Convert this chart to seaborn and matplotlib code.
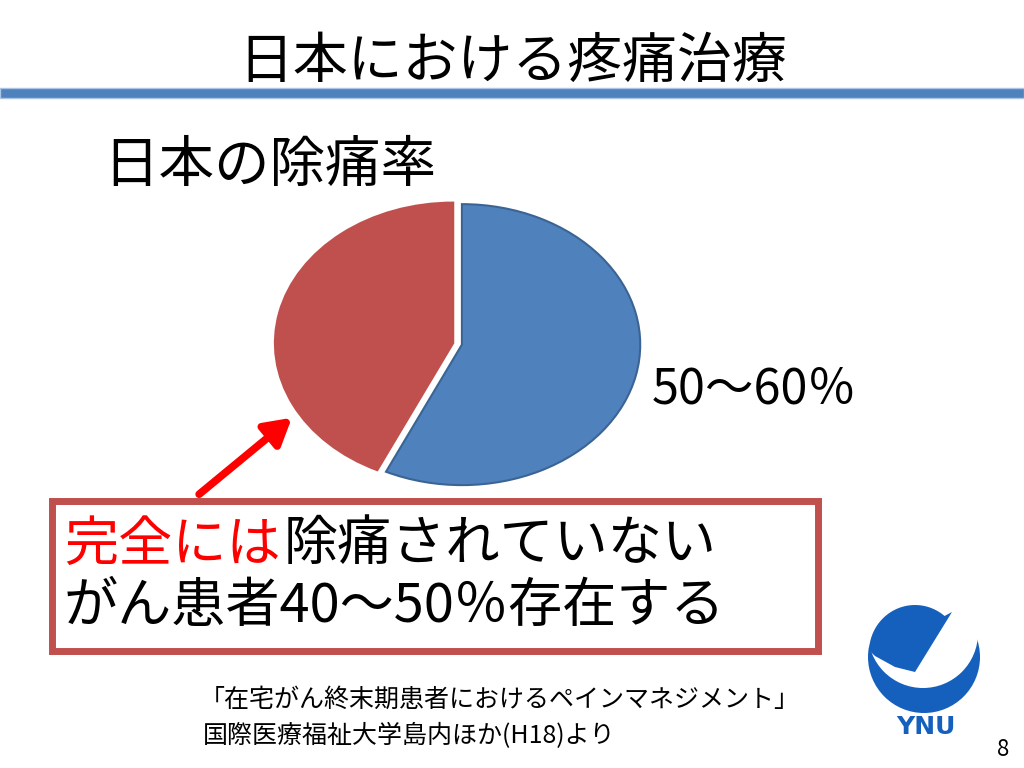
import matplotlib
matplotlib.use("Agg")
import numpy as np
import matplotlib.pyplot as plt
import seaborn as sns
from matplotlib.patches import Rectangle, Circle, Polygon

# pie data: relief rate of cancer pain in Japan
slice_labels = ['除痛されている', '完全には除痛されていない']
slice_values = [57, 43]
slice_colors = ['#4F81BD', '#C0504D']
slice_edges = ['#3B6494', '#C0504D']

title_text = '日本における疼痛治療'
subtitle_text = '日本の除痛率'
blue_label = '50〜60％'
box_red = '完全には'
box_black = '除痛されていない'
box_line2 = 'がん患者40〜50％存在する'
cite_line1 = '「在宅がん終末期患者におけるペインマネジメント」'
cite_line2 = '国際医療福祉大学島内ほか(H18)より'
page_no = '8'

sns.set_theme(style="white")
plt.rcParams['font.family'] = ['Noto Sans CJK JP', 'DejaVu Sans']

W, H = 1024, 768
fig = plt.figure(figsize=(W / 100, H / 100), dpi=100)
fig.patch.set_facecolor('white')

# overlay axes in pixel coordinates
ov = fig.add_axes([0, 0, 1, 1])
ov.set_xlim(0, W)
ov.set_ylim(H, 0)
ov.axis('off')

# title + blue rule
ov.text(513, 62, title_text, fontsize=39.5, ha='center', va='center', color='black')
ov.add_patch(Rectangle((0, 88), W, 10, facecolor='#4F81BD', edgecolor='#A9C4E4', lw=1))

ov.text(103, 166, subtitle_text, fontsize=40, ha='left', va='center', color='black')

# pie chart, stretched into an ellipse
px0, py0, pw, ph = 266, 197, 378, 295
pax = fig.add_axes([px0 / W, 1 - (py0 + ph) / H, pw / W, ph / H])
wedges, _ = pax.pie(slice_values, colors=slice_colors, startangle=90,
                    counterclock=False, explode=[0.05, 0],
                    wedgeprops=dict(linewidth=1.5))
for w, ec in zip(wedges, slice_edges):
    w.set_edgecolor(ec)
pax.set_aspect('auto')
pax.set_xlim(-1.05, 1.07)
pax.set_ylim(-1.06, 1.04)
pax.axis('off')

ov.text(652, 390, blue_label, fontsize=35, ha='left', va='center', color='black')

# red arrow
ov.annotate('', xy=(294, 416), xytext=(197, 496),
            arrowprops=dict(arrowstyle='-|>,head_length=1.3,head_width=0.75',
                            color='#FF0000', lw=5.5))

# text box
ov.add_patch(Rectangle((52, 501), 766, 150, facecolor='white',
                       edgecolor='#C0504D', lw=5, zorder=3))
ov.text(64, 545, box_red, fontsize=39, ha='left', va='center', color='#FF0000', zorder=4)
ov.text(64 + 4 * 55, 545, box_black, fontsize=39, ha='left', va='center', color='black', zorder=4)
ov.text(64, 606, box_line2, fontsize=39, ha='left', va='center', color='black', zorder=4)

# citation
ov.text(200, 700, cite_line1, fontsize=18, ha='left', va='center', color='black')
ov.text(203, 736, cite_line2, fontsize=18, ha='left', va='center', color='black')

# logo: crescent + leaf
logo_blue = '#1560BD'
ov.add_patch(Circle((924, 657), 56, facecolor=logo_blue, edgecolor='none'))
ov.add_patch(Circle((923, 633), 55, facecolor='white', edgecolor='none'))
t = np.radians(np.linspace(50, 178, 40))
leaf = [(915 + 46 * np.cos(a), 652 - 47 * np.sin(a)) for a in t[::-1]]
leaf = leaf[::-1]
leaf = [(952, 612)] + leaf + [(875, 656), (895, 667), (915, 672)]
ov.add_patch(Polygon(leaf, closed=True, facecolor=logo_blue, edgecolor='none'))
ov.text(926, 727, 'YNU', fontsize=18, fontweight='bold', ha='center', va='center',
        color=logo_blue, family=['DejaVu Sans'])

ov.text(1003, 750, page_no, fontsize=16, ha='center', va='center', color='black')

fig.savefig('out.png', dpi=100, facecolor='white')
